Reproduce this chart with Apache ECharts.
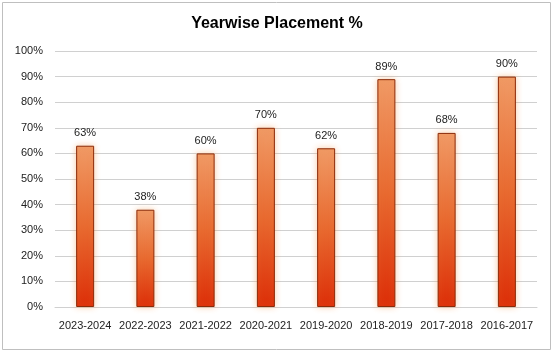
<!DOCTYPE html>
<html><head><meta charset="utf-8">
<script src="https://cdn.jsdelivr.net/npm/echarts@6/dist/echarts.min.js"></script>
<style>html,body{margin:0;padding:0;background:#fff}#c{width:554px;height:353px}</style>
</head><body><div id="c"></div>
<script>
var categories = ['2023-2024','2022-2023','2021-2022','2020-2021','2019-2020','2018-2019','2017-2018','2016-2017'];
var placement = [63, 38, 60, 70, 62, 89, 68, 90];
var yTicks = [0,10,20,30,40,50,60,70,80,90,100];
var titleText = 'Yearwise Placement %';

var chart = echarts.init(document.getElementById('c'), null, {renderer:'canvas'});
chart.setOption({
  animation:false,
  backgroundColor:'#fff',
  title:{text:titleText,left:'center',top:11,textStyle:{fontFamily:'Liberation Sans',fontWeight:'bold',fontSize:16,color:'#000'}},
  graphic:[{type:'rect',shape:{x:2.5,y:2.5,width:548,height:347},style:{fill:'none',stroke:'#bfbfbf',lineWidth:1},silent:true}],
  grid:{left:55,right:17,top:51,bottom:46,containLabel:false},
  xAxis:{type:'category',data:categories,
    axisLine:{show:true,lineStyle:{color:'#d0d0d0'}},axisTick:{show:false},
    axisLabel:{color:'#222',fontFamily:'Liberation Sans',fontSize:11,margin:13,interval:0}},
  yAxis:{type:'value',min:0,max:100,interval:10,
    axisLabel:{formatter:function(v){return v+'%';},color:'#222',fontFamily:'Liberation Sans',fontSize:11,margin:12},
    axisLine:{show:false},axisTick:{show:false},
    splitLine:{lineStyle:{color:'#d0d0d0'}}},
  series:[{type:'bar',data:placement,barWidth:18,
    itemStyle:{
      color:new echarts.graphic.LinearGradient(0,0,0,1,[{offset:0,color:'#f09a66'},{offset:0.5,color:'#e86a30'},{offset:1,color:'#dc2e08'}]),
      borderColor:'#8a2a08',borderWidth:1,
      shadowColor:'rgba(245,150,70,0.45)',shadowBlur:6},
    label:{show:true,position:'top',distance:7,formatter:function(p){return p.value+'%';},color:'#222',fontFamily:'Liberation Sans',fontSize:11}
  }]
});
</script></body></html>
